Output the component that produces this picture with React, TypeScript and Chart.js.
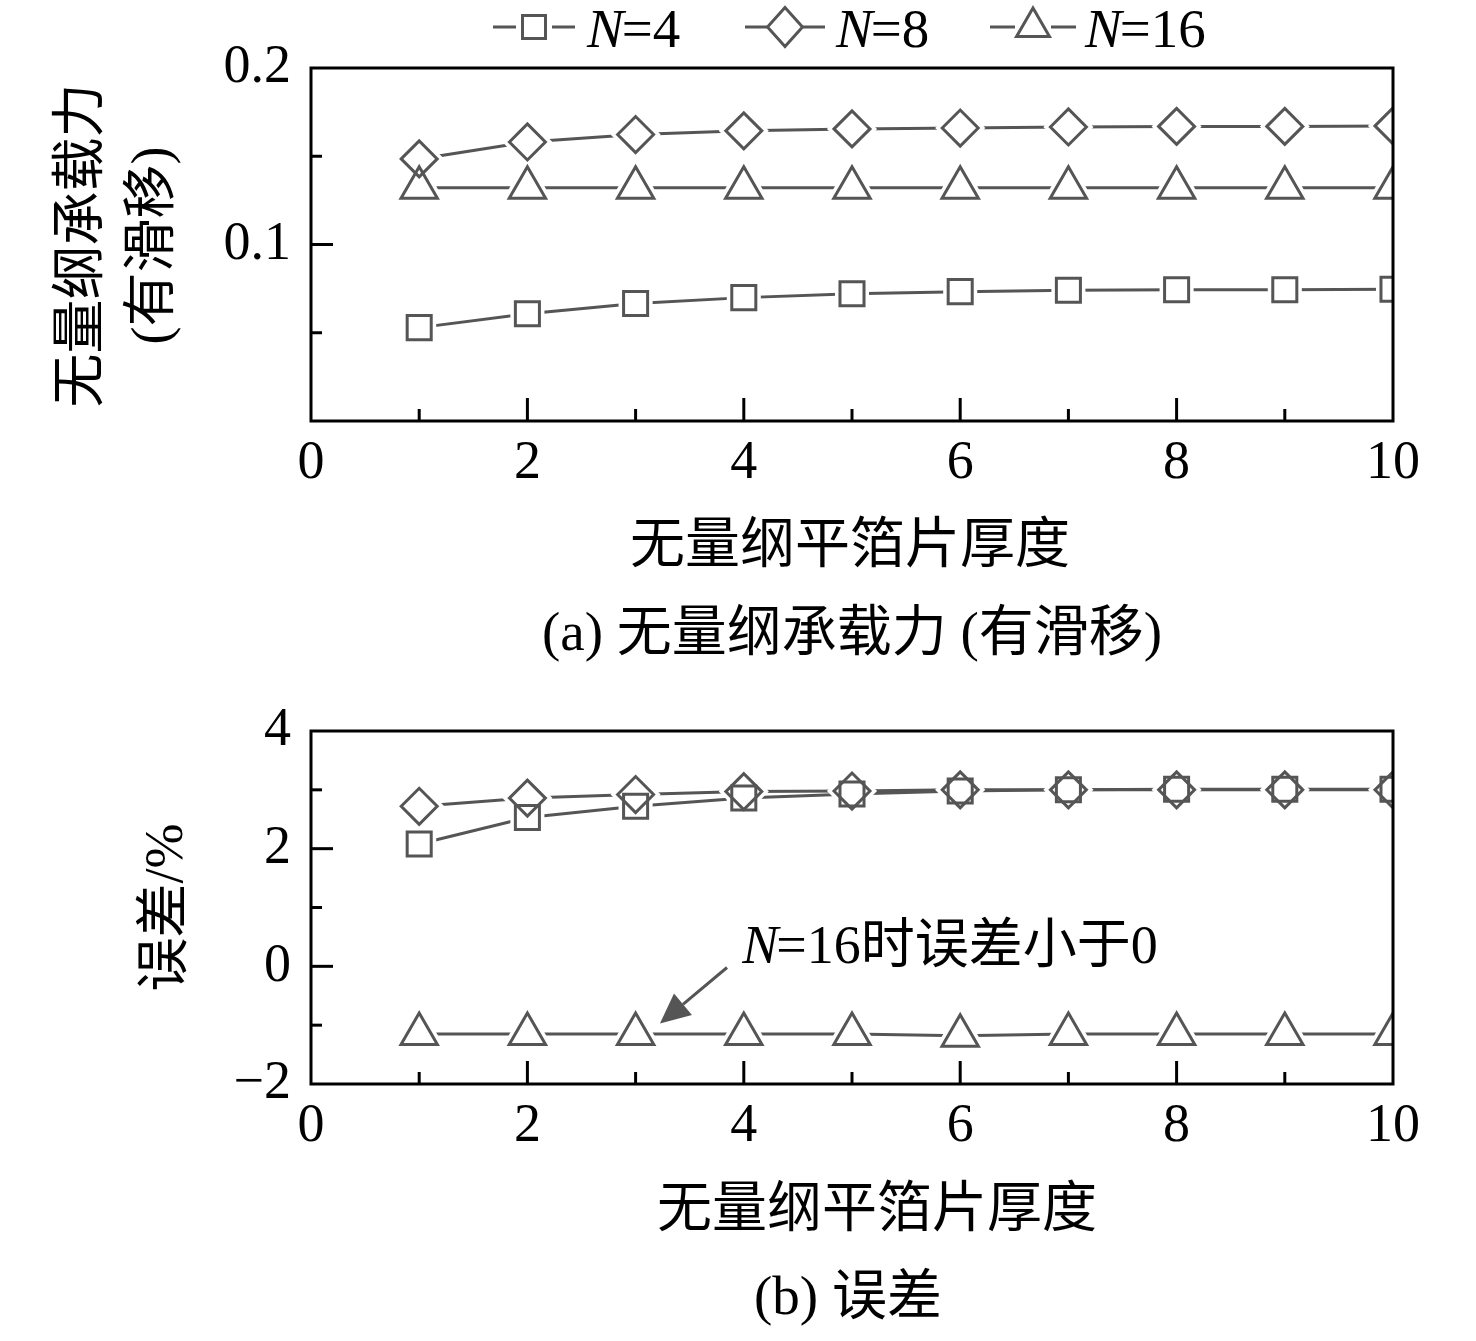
import React, { useEffect, useRef } from 'react';
import { Chart, registerables } from 'chart.js';

Chart.register(...registerables);

// ---------- data ----------
const thickness = [1, 2, 3, 4, 5, 6, 7, 8, 9, 10];
const seriesLabels = ['4', '8', '16'];
const loadN4 = [0.0529, 0.0608, 0.0666, 0.0699, 0.0721, 0.0733, 0.0741, 0.0744, 0.0744, 0.0747];
const loadN8 = [0.1485, 0.1581, 0.1623, 0.1644, 0.1655, 0.166, 0.1666, 0.1669, 0.1669, 0.1672];
const loadN16 = [0.1321, 0.1321, 0.1321, 0.1321, 0.1321, 0.1321, 0.1321, 0.1321, 0.1321, 0.1321];
const errN4 = [2.08, 2.53, 2.72, 2.86, 2.93, 2.98, 3.0, 3.01, 3.01, 3.01];
const errN8 = [2.72, 2.86, 2.92, 2.97, 2.98, 3.0, 3.0, 3.0, 3.0, 3.0];
const errN16 = [-1.15, -1.15, -1.15, -1.15, -1.15, -1.18, -1.15, -1.15, -1.15, -1.15];
const xTickLabels = [0, 2, 4, 6, 8, 10];
const loadTickLabels = [0.1, 0.2];
const errTickLabels = [-2, 0, 2, 4];
const annotationText = '=16时误差小于0';
const annotationTail = { x: 3.845, y: -0.02 };
const annotationTip = { x: 3.225, y: -0.973 };
const annotationTextPos = { x: 3.985, y: 0.06 };

// ---------- styles ----------
const GRAY = '#555555';
const SERIF = '"Liberation Serif", "Noto Sans CJK SC", serif';
const pointStyles = ['rect', 'rectRot', 'triangle'];
const pointRadii = [17, 18, 21];

function buildDatasets(series: number[][]) {
  const ds: any[] = [];
  series.forEach((vals, i) => {
    const data = thickness.map((x, j) => ({ x, y: vals[j] }));
    ds.push({
      data,
      showLine: true,
      borderColor: GRAY,
      borderWidth: 3,
      pointRadius: 0,
      pointHoverRadius: 0,
      order: 3,
      clip: 0,
    });
    ds.push({
      data,
      showLine: false,
      pointStyle: pointStyles[i],
      pointRadius: pointRadii[i],
      pointHoverRadius: pointRadii[i],
      pointBorderWidth: 10,
      pointBorderColor: '#ffffff',
      pointBackgroundColor: '#ffffff',
      order: 2,
      clip: 0,
    });
    ds.push({
      data,
      showLine: false,
      pointStyle: pointStyles[i],
      pointRadius: pointRadii[i],
      pointHoverRadius: pointRadii[i],
      pointBorderWidth: 3,
      pointBorderColor: GRAY,
      pointBackgroundColor: 'rgba(255,255,255,0)',
      order: 1,
      clip: 0,
    });
  });
  return ds;
}

function drawFrameAndTicks(chart: any, yLabelVals: number[]) {
  const ctx = chart.ctx;
  const { left, right, top, bottom } = chart.chartArea;
  const xs = chart.scales.x;
  const ys = chart.scales.y;
  ctx.save();
  ctx.strokeStyle = '#000';
  ctx.lineWidth = 3;
  ctx.lineCap = 'butt';
  xs.ticks.forEach((t: any) => {
    if (t.value <= xs.min || t.value >= xs.max) return;
    const px = xs.getPixelForValue(t.value);
    const major = xTickLabels.includes(t.value);
    const len = major ? 23 : 12;
    ctx.beginPath();
    ctx.moveTo(px, bottom);
    ctx.lineTo(px, bottom - len);
    ctx.stroke();
  });
  ys.ticks.forEach((t: any) => {
    if (t.value <= ys.min + 1e-9 || t.value >= ys.max - 1e-9) return;
    const py = ys.getPixelForValue(t.value);
    const major = yLabelVals.some((v) => Math.abs(v - t.value) < 1e-9);
    const len = major ? 22 : 11;
    ctx.beginPath();
    ctx.moveTo(left, py);
    ctx.lineTo(left + len, py);
    ctx.stroke();
  });
  ctx.strokeRect(left, top, right - left, bottom - top);
  ctx.restore();
}

function drawLegendMarker(ctx: any, style: string, x: number, y: number) {
  ctx.beginPath();
  if (style === 'rect') {
    ctx.rect(x - 11.5, y - 11.5, 23, 23);
  } else if (style === 'rectRot') {
    ctx.moveTo(x, y - 19.5);
    ctx.lineTo(x + 17.5, y);
    ctx.lineTo(x, y + 19.5);
    ctx.lineTo(x - 17.5, y);
    ctx.closePath();
  } else {
    const r = 19;
    ctx.moveTo(x, y - r);
    ctx.lineTo(x + r * 0.866, y + r * 0.5);
    ctx.lineTo(x - r * 0.866, y + r * 0.5);
    ctx.closePath();
  }
  ctx.stroke();
}

function drawItalicN(ctx: any, rest: string, x: number, y: number, size: number) {
  ctx.textAlign = 'left';
  ctx.font = `italic ${size}px ${SERIF}`;
  ctx.fillText('N', x, y);
  const w = ctx.measureText('N').width;
  ctx.font = `${size}px ${SERIF}`;
  ctx.fillText(rest, x + w - 2, y);
}

function drawTop(chart: any) {
  const ctx = chart.ctx;
  const { left, top, bottom } = chart.chartArea;
  drawFrameAndTicks(chart, loadTickLabels);
  ctx.save();
  ctx.fillStyle = '#000';
  const cy = (top + bottom) / 2 + 1;
  ctx.font = `54px ${SERIF}`;
  ctx.textAlign = 'center';
  ctx.textBaseline = 'middle';
  [
    { text: '无量纲承载力', x: left - 227 },
    { text: '(有滑移)', x: left - 156 },
  ].forEach((l) => {
    ctx.save();
    ctx.translate(l.x, cy);
    ctx.rotate(-Math.PI / 2);
    ctx.fillText(l.text, 0, 0);
    ctx.restore();
  });
  ctx.font = `55px ${SERIF}`;
  ctx.fillText('无量纲平箔片厚度', 850, bottom + 127);
  ctx.fillText('(a) 无量纲承载力 (有滑移)', 852, bottom + 215);
  const legendY = 27;
  const items = [
    { x0: 493, mx: 534, style: 'rect', tx: 587 },
    { x0: 745, mx: 785, style: 'rectRot', tx: 836 },
    { x0: 990, mx: 1033, style: 'triangle', tx: 1085 },
  ];
  ctx.strokeStyle = GRAY;
  ctx.lineWidth = 3;
  items.forEach((it, i) => {
    ctx.beginPath();
    ctx.moveTo(it.x0, legendY);
    ctx.lineTo(it.mx - 18, legendY);
    ctx.moveTo(it.mx + 18, legendY);
    ctx.lineTo(it.mx + (it.mx - it.x0), legendY);
    ctx.stroke();
    drawLegendMarker(ctx, it.style, it.mx, legendY);
    ctx.textBaseline = 'alphabetic';
    drawItalicN(ctx, '=' + seriesLabels[i], it.tx, 47, 55);
  });
  ctx.restore();
}

function drawBottom(chart: any) {
  const ctx = chart.ctx;
  const { left, top, bottom } = chart.chartArea;
  const xs = chart.scales.x;
  const ys = chart.scales.y;
  drawFrameAndTicks(chart, errTickLabels);
  ctx.save();
  ctx.fillStyle = '#000';
  ctx.textAlign = 'center';
  ctx.textBaseline = 'middle';
  ctx.font = `54px ${SERIF}`;
  ctx.save();
  ctx.translate(left - 143, (top + bottom) / 2);
  ctx.rotate(-Math.PI / 2);
  ctx.fillText('误差/%', 0, 0);
  ctx.restore();
  ctx.font = `55px ${SERIF}`;
  ctx.fillText('无量纲平箔片厚度', 877, bottom + 128);
  ctx.fillText('(b) 误差', 848, bottom + 216);
  const tx = xs.getPixelForValue(annotationTail.x);
  const ty = ys.getPixelForValue(annotationTail.y);
  const hx = xs.getPixelForValue(annotationTip.x);
  const hy = ys.getPixelForValue(annotationTip.y);
  const ang = Math.atan2(hy - ty, hx - tx);
  const headLen = 30;
  const headHalf = 14;
  const bx = hx - Math.cos(ang) * headLen;
  const by = hy - Math.sin(ang) * headLen;
  ctx.strokeStyle = GRAY;
  ctx.fillStyle = GRAY;
  ctx.lineWidth = 3;
  ctx.beginPath();
  ctx.moveTo(tx, ty);
  ctx.lineTo(bx, by);
  ctx.stroke();
  ctx.beginPath();
  ctx.moveTo(hx, hy);
  ctx.lineTo(bx + Math.sin(ang) * headHalf, by - Math.cos(ang) * headHalf);
  ctx.lineTo(bx - Math.sin(ang) * headHalf, by + Math.cos(ang) * headHalf);
  ctx.closePath();
  ctx.fill();
  ctx.fillStyle = '#000';
  ctx.textBaseline = 'alphabetic';
  drawItalicN(
    ctx,
    annotationText,
    xs.getPixelForValue(annotationTextPos.x),
    ys.getPixelForValue(annotationTextPos.y),
    54
  );
  ctx.restore();
}

function makeConfig(o: {
  series: number[][];
  yMin: number;
  yMax: number;
  yStep: number;
  yLabels: number[];
  yFmt: (v: number) => string;
  canvasH: number;
  plotTop: number;
  plotBottom: number;
  draw: (chart: any) => void;
}): any {
  const tickFont = { family: SERIF, size: 54 };
  return {
    type: 'scatter',
    data: { datasets: buildDatasets(o.series) },
    options: {
      animation: false,
      responsive: false,
      events: [],
      layout: { autoPadding: false, padding: { left: 0, right: 83, top: o.plotTop, bottom: 0 } },
      plugins: { legend: { display: false }, tooltip: { enabled: false }, title: { display: false } },
      scales: {
        x: {
          type: 'linear',
          min: 0,
          max: 10,
          ticks: {
            stepSize: 1,
            autoSkip: false,
            maxRotation: 0,
            padding: 10,
            color: '#000',
            font: tickFont,
            callback: (v: number) => (xTickLabels.includes(v) ? String(v) : ''),
          },
          grid: { display: false, drawTicks: false, tickLength: 0 },
          border: { display: false },
          afterFit: (s: any) => {
            s.height = o.canvasH - o.plotBottom;
          },
        },
        y: {
          type: 'linear',
          min: o.yMin,
          max: o.yMax,
          ticks: {
            stepSize: o.yStep,
            autoSkip: false,
            padding: 20,
            color: '#000',
            font: tickFont,
            callback: (v: number) => {
              const hit = o.yLabels.find((l) => Math.abs(l - v) < 1e-9);
              return hit === undefined ? '' : o.yFmt(hit);
            },
          },
          grid: { display: false, drawTicks: false, tickLength: 0 },
          border: { display: false },
          afterFit: (s: any) => {
            s.width = 311;
          },
        },
      },
    },
    plugins: [{ id: 'decor', afterDraw: (chart: any) => o.draw(chart) }],
  };
}

const TOP_H = 677;
const BOT_TOP = 677;
const BOT_H = 1341 - BOT_TOP;

export default function App() {
  const topRef = useRef<HTMLCanvasElement>(null);
  const botRef = useRef<HTMLCanvasElement>(null);

  useEffect(() => {
    const c1 = new Chart(
      topRef.current as HTMLCanvasElement,
      makeConfig({
        series: [loadN4, loadN8, loadN16],
        yMin: 0,
        yMax: 0.2,
        yStep: 0.05,
        yLabels: loadTickLabels,
        yFmt: (v) => v.toFixed(1),
        canvasH: TOP_H,
        plotTop: 68,
        plotBottom: 421,
        draw: drawTop,
      })
    );
    const c2 = new Chart(
      botRef.current as HTMLCanvasElement,
      makeConfig({
        series: [errN4, errN8, errN16],
        yMin: -2,
        yMax: 4,
        yStep: 1,
        yLabels: errTickLabels,
        yFmt: (v) => (v < 0 ? '\u2212' + Math.abs(v) : String(v)),
        canvasH: BOT_H,
        plotTop: 731 - BOT_TOP,
        plotBottom: 1084 - BOT_TOP,
        draw: drawBottom,
      })
    );
    return () => {
      c1.destroy();
      c2.destroy();
    };
  }, []);

  return (
    <div style={{ position: 'absolute', left: 0, top: 0, width: 1476, height: 1341, background: '#fff' }}>
      <canvas ref={topRef} width={1476} height={TOP_H} style={{ position: 'absolute', left: 0, top: 0, width: 1476, height: TOP_H }} />
      <canvas ref={botRef} width={1476} height={BOT_H} style={{ position: 'absolute', left: 0, top: BOT_TOP, width: 1476, height: BOT_H }} />
    </div>
  );
}
